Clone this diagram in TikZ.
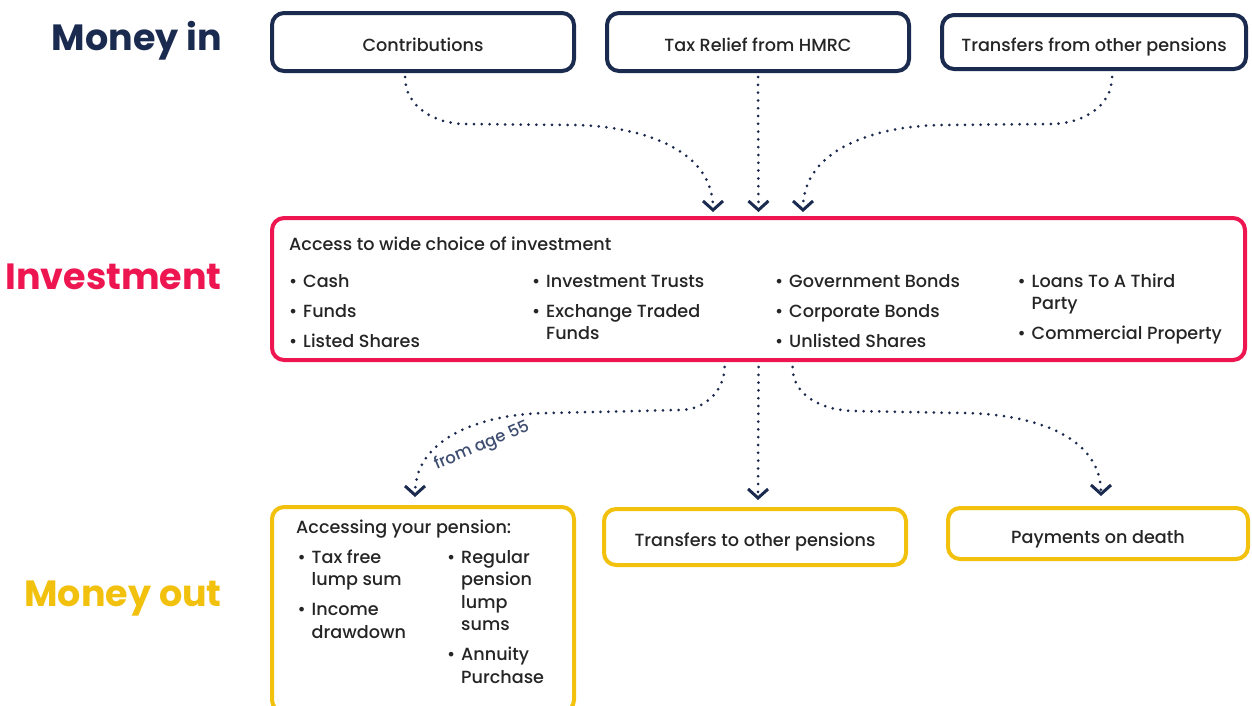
\documentclass[tikz,border=0pt]{standalone}
\usepackage{fontspec}
\setmainfont{Poppins}[UprightFont=* Medium, BoldFont=* Bold]
\usetikzlibrary{arrows.meta}
\definecolor{navy}{HTML}{1B2A4F}
\definecolor{pink}{HTML}{EE1651}
\definecolor{gold}{HTML}{F2C10E}
\definecolor{ink}{HTML}{252525}
\definecolor{slate}{HTML}{3E4D70}
\tikzset{
  every picture/.style={line join=round, >=Stealth},
  box/.style={rounded corners=12pt, line width=4pt, fill=white, text=ink, font=\fontsize{17.6}{22.5}\selectfont, text height=19pt, text depth=0pt, inner sep=0pt},
  inbox/.style={box, draw=navy},
  outbox/.style={box, draw=gold},
  head/.style={font=\fontsize{36.5}{40}\selectfont\bfseries, anchor=base east, inner sep=0pt},
  lst/.style={font=\fontsize{17.6}{22.5}\selectfont, text=ink, anchor=base west, inner sep=0pt},
  flow/.style={draw=navy, line width=3pt, line cap=round, dash pattern=on 0pt off 7.8pt, -{Straight Barb[length=9pt,width=20pt]}},
}
\newcommand{\bu}{\makebox[14pt][l]{\textbullet}}

\begin{document}
\begin{tikzpicture}[x=1pt,y=-1pt]
\useasboundingbox (0,0) rectangle (1252,705);

\node[head, text=navy] (hin) at (222,50) {Money in};
\node[head, text=pink] (hinv) at (222,289) {Investment};
\node[head, text=gold] (hout) at (222,606) {Money out};

\node[inbox, minimum width=302, minimum height=58] (contrib) at (423,42) {Contributions};
\node[inbox, minimum width=302, minimum height=58] (taxrel) at (758,42) {Tax Relief from HMRC};
\node[inbox, minimum width=304, minimum height=54] (transin) at (1094,42) {Transfers from other pensions};

\node[box, draw=pink, minimum width=973, minimum height=142] (invest) at (758.5,289) {};
\node[lst] (invhd) at (289,250) {Access to wide choice of investment};
\node[lst] (inv1) at (289,287) {\begin{tabular}[t]{@{}l@{}l@{}}\bu&Cash\\[7.5pt]\bu&Funds\\[7.5pt]\bu&Listed Shares\end{tabular}};
\node[lst] (inv2) at (532,287) {\begin{tabular}[t]{@{}l@{}l@{}}\bu&Investment Trusts\\[7.5pt]\bu&Exchange Traded\\&Funds\end{tabular}};
\node[lst] (inv3) at (775,287) {\begin{tabular}[t]{@{}l@{}l@{}}\bu&Government Bonds\\[7.5pt]\bu&Corporate Bonds\\[7.5pt]\bu&Unlisted Shares\end{tabular}};
\node[lst] (inv4) at (1017.5,287) {\begin{tabular}[t]{@{}l@{}l@{}}\bu&Loans To A Third\\&Party\\[7.5pt]\bu&Commercial Property\end{tabular}};

\node[outbox, minimum width=302, minimum height=205] (access) at (423,609.5) {};
\node[lst] (acchd) at (296,533) {Accessing your pension:};
\node[lst] (acc1) at (297.5,563) {\begin{tabular}[t]{@{}l@{}l@{}}\bu&Tax free\\&lump sum\\[7.5pt]\bu&Income\\&drawdown\end{tabular}};
\node[lst] (acc2) at (447,563) {\begin{tabular}[t]{@{}l@{}l@{}}\bu&Regular\\&pension\\&lump\\&sums\\[7.5pt]\bu&Annuity\\&Purchase\end{tabular}};
\node[outbox, minimum width=302, minimum height=56] (transout) at (755,537) {Transfers to other pensions};
\node[outbox, minimum width=300, minimum height=51] (death) at (1098,533.5) {Payments on death};

\coordinate (c1) at ([xshift=-45.5,yshift=4]invest.north);
\coordinate (c2) at ([yshift=4]invest.north);
\coordinate (c3) at ([xshift=44.5,yshift=4]invest.north);
\draw[flow] ([xshift=-18,yshift=-4]contrib.south) to[out=-90,in=180] (465,124) -- (570,125) to[out=0,in=90] (c1);
\draw[flow] ([yshift=-4]taxrel.south) -- (c2);
\draw[flow] ([xshift=18,yshift=-6]transin.south) to[out=-90,in=0] (1051,124) -- (946,125) to[out=180,in=90] (c3);

\coordinate (d1) at ([xshift=-8,yshift=8]access.north);
\coordinate (d2) at ([xshift=3,yshift=7]transout.north);
\coordinate (d3) at ([xshift=3,yshift=10]death.north);
\draw[flow] ([xshift=-34,yshift=-5]invest.south) to[out=-90,in=0] (680,410) -- (550,413) to[out=180,in=90] (d1);
\draw[flow] ([yshift=-5]invest.south) -- (d2);
\draw[flow] ([xshift=34,yshift=-5]invest.south) to[out=-90,in=180] (855,411) -- (960,413) to[out=0,in=90] (d3);
\node[font=\fontsize{16.5}{18}\selectfont, text=slate, rotate=23, inner sep=0pt] (age) at (482,446) {from age 55};
\end{tikzpicture}
\end{document}
